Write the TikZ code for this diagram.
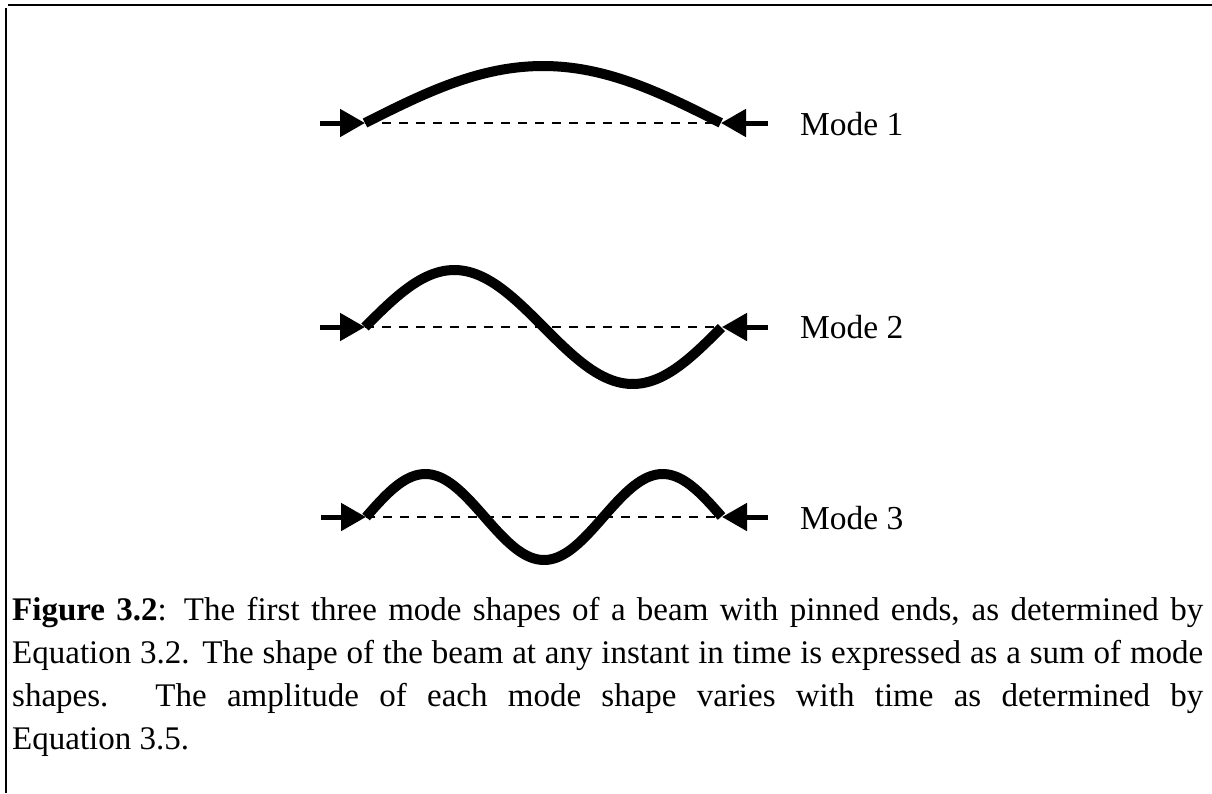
\documentclass[tikz,border=0pt]{standalone}
\usepackage{fontspec}
\setmainfont{Liberation Serif}
\usetikzlibrary{arrows.meta}
\begin{document}
\begin{tikzpicture}[x=1pt,y=-1pt,
  frame/.style={line width=1.6pt,black},
  beam/.style={line width=10pt,line cap=butt,line join=round},
  axisline/.style={line width=1.8pt,dash pattern=on 9pt off 8pt},
  pinarrow/.style={line width=5pt,-{Triangle[length=25pt,width=27pt]}},
  modelabel/.style={anchor=base west,inner sep=0pt,font=\fontsize{33.5}{38}\selectfont}]
\useasboundingbox (0,0) rectangle (1212,793);
% frame
\coordinate (tl) at (8,5);
\coordinate (tr) at (1212,5);
\coordinate (lt) at (6,8);
\coordinate (lb) at (6,793);
\draw[frame] (tl) -- (tr);
\draw[frame] (lt) -- (lb);
% Mode 1
\coordinate (a1) at (365,123);
\coordinate (b1) at (721,123);
\coordinate (la1) at (320,123);
\coordinate (ra1) at (768,123);
\draw[axisline] (a1) -- (b1);
\draw[beam] plot[domain=0:1,samples=80,variable=\t] ({365+356*\t},{123-57*sin(180*\t)});
\draw[pinarrow] (la1) -- (a1);
\draw[pinarrow] (ra1) -- (b1);
\node[modelabel] (m1) at (800,135) {Mode 1};
% Mode 2
\coordinate (a2) at (365,327);
\coordinate (b2) at (722,327);
\coordinate (la2) at (320,327);
\coordinate (ra2) at (768,327);
\draw[axisline] (a2) -- (b2);
\draw[beam] plot[domain=0:1,samples=100,variable=\t] ({365+357*\t},{327-57*sin(360*\t)});
\draw[pinarrow] (la2) -- (a2);
\draw[pinarrow] (ra2) -- (b2);
\node[modelabel] (m2) at (800,338) {Mode 2};
% Mode 3
\coordinate (a3) at (366,517);
\coordinate (b3) at (722,517);
\coordinate (la3) at (321,517);
\coordinate (ra3) at (768,517);
\draw[axisline] (a3) -- (b3);
\draw[beam] plot[domain=0:1,samples=120,variable=\t] ({366+356*\t},{517-43*sin(540*\t)});
\draw[pinarrow] (la3) -- (a3);
\draw[pinarrow] (ra3) -- (b3);
\node[modelabel] (m3) at (800,529) {Mode 3};
% caption
\node[anchor=north west,inner sep=0pt,text width=1191pt,align=justify,
  font=\fontsize{33}{43}\selectfont] (cap) at (12,597)
  {\hyphenpenalty=10000\emergencystretch=3em\tolerance=9999
  \textbf{Figure 3.2}: The first three mode shapes of a beam with pinned ends, as determined by\linebreak
  Equation 3.2.  The shape of the beam at any instant in time is expressed as a sum of mode\linebreak
  shapes.  The amplitude of each mode shape varies with time as determined by\linebreak
  Equation 3.5.};
\end{tikzpicture}
\end{document}
